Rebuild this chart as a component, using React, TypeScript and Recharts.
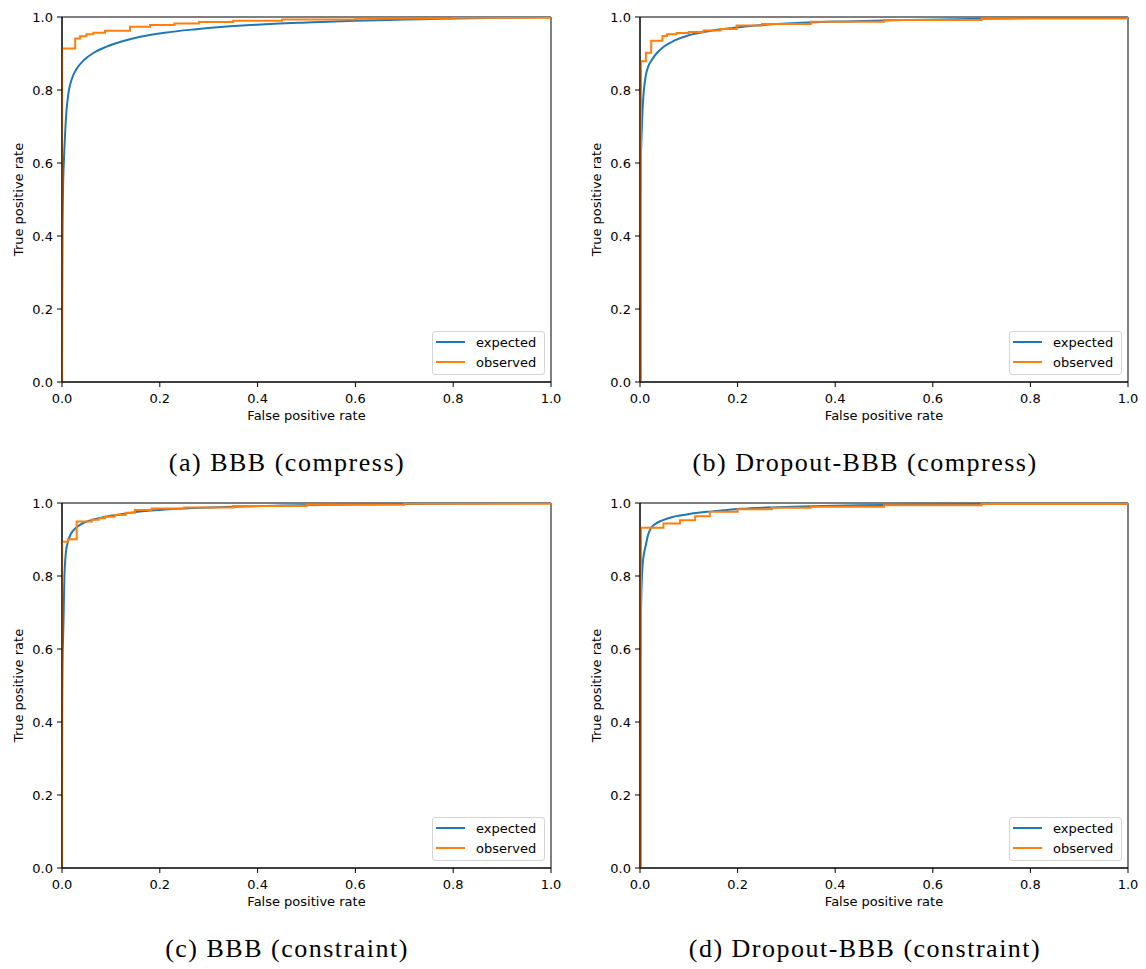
import { LineChart, Line, XAxis, YAxis, ReferenceArea, Legend } from 'recharts'

const TICKS = [0, 0.2, 0.4, 0.6, 0.8, 1.0]
const C_EXPECTED = '#1f77b4'
const C_OBSERVED = '#ff7f0e'
const FONT = 'DejaVu Sans, sans-serif'

// (a) BBB (compress)
const fprExpA = [0, 0.001, 0.002, 0.004, 0.006, 0.009, 0.013, 0.02, 0.03, 0.045, 0.065, 0.09, 0.12, 0.16, 0.21, 0.27, 0.33, 0.4, 0.5, 0.6, 0.7, 0.8, 0.9, 1.0]
const tprExpA = [0.07, 0.4, 0.52, 0.61, 0.67, 0.74, 0.79, 0.83, 0.858, 0.882, 0.902, 0.918, 0.932, 0.946, 0.957, 0.966, 0.973, 0.979, 0.985, 0.99, 0.993, 0.996, 0.998, 1.0]
const fprObsA = [0, 0, 0.027, 0.037, 0.05, 0.064, 0.088, 0.139, 0.18, 0.23, 0.28, 0.35, 0.45, 0.6, 0.8, 1.0]
const tprObsA = [0, 0.914, 0.941, 0.947, 0.953, 0.957, 0.962, 0.973, 0.978, 0.982, 0.986, 0.99, 0.993, 0.996, 0.998, 1.0]

// (b) Dropout-BBB (compress)
const fprExpB = [0, 0.0005, 0.001, 0.002, 0.003, 0.005, 0.008, 0.012, 0.017, 0.024, 0.035, 0.05, 0.07, 0.1, 0.14, 0.19, 0.25, 0.33, 0.42, 0.55, 0.7, 0.85, 1.0]
const tprExpB = [0.1, 0.42, 0.53, 0.62, 0.665, 0.74, 0.8, 0.84, 0.865, 0.882, 0.902, 0.92, 0.935, 0.95, 0.961, 0.97, 0.978, 0.984, 0.988, 0.992, 0.995, 0.998, 1.0]
const fprObsB = [0, 0.002, 0.012, 0.023, 0.046, 0.055, 0.075, 0.1, 0.13, 0.165, 0.198, 0.25, 0.35, 0.5, 0.7, 1.0]
const tprObsB = [0, 0.879, 0.902, 0.935, 0.948, 0.953, 0.956, 0.959, 0.963, 0.967, 0.977, 0.981, 0.987, 0.992, 0.996, 1.0]

// (c) BBB (constraint)
const fprExpC = [0, 0.0005, 0.001, 0.002, 0.003, 0.004, 0.005, 0.007, 0.009, 0.012, 0.018, 0.027, 0.04, 0.06, 0.085, 0.11, 0.15, 0.2, 0.27, 0.35, 0.45, 0.6, 0.75, 0.9, 1.0]
const tprExpC = [0.21, 0.45, 0.55, 0.62, 0.67, 0.74, 0.8, 0.85, 0.875, 0.894, 0.915, 0.93, 0.943, 0.953, 0.961, 0.967, 0.975, 0.981, 0.986, 0.99, 0.993, 0.996, 0.998, 0.999, 1.0]
const fprObsC = [0, 0, 0.012, 0.03, 0.061, 0.075, 0.088, 0.108, 0.13, 0.149, 0.183, 0.25, 0.35, 0.5, 0.7, 1.0]
const tprObsC = [0, 0.894, 0.901, 0.949, 0.954, 0.958, 0.962, 0.967, 0.973, 0.981, 0.985, 0.988, 0.992, 0.995, 0.998, 1.0]

// (d) Dropout-BBB (constraint)
const fprExpD = [0, 0.0005, 0.001, 0.002, 0.003, 0.004, 0.006, 0.008, 0.012, 0.016, 0.022, 0.032, 0.047, 0.065, 0.088, 0.11, 0.137, 0.17, 0.205, 0.27, 0.35, 0.45, 0.6, 0.75, 0.9, 1.0]
const tprExpD = [0.24, 0.5, 0.6, 0.7, 0.76, 0.8, 0.84, 0.86, 0.885, 0.91, 0.93, 0.943, 0.953, 0.961, 0.967, 0.972, 0.976, 0.98, 0.984, 0.988, 0.991, 0.994, 0.996, 0.998, 0.999, 1.0]
const fprObsD = [0, 0.002, 0.048, 0.082, 0.113, 0.143, 0.2, 0.27, 0.35, 0.5, 0.7, 1.0]
const tprObsD = [0, 0.932, 0.944, 0.953, 0.964, 0.976, 0.983, 0.987, 0.99, 0.994, 0.997, 1.0]

const zip = (xs: number[], ys: number[]) => xs.map((fpr, i) => ({ fpr, tpr: ys[i] }))

interface PanelProps {
  left: number
  top: number
  width: number
  plotWidth: number
  exp: { fpr: number; tpr: number }[]
  obs: { fpr: number; tpr: number }[]
}

const tickStyle = { fontSize: 13, fill: '#000', fontFamily: FONT }

const renderLegend = (props: any) => {
  const items = props.payload || []
  return (
    <div style={{ width: 111, height: 42, border: '1px solid #d4d4d4', borderRadius: 3, background: 'rgba(255,255,255,0.8)', position: 'relative', fontFamily: FONT, fontSize: 13, color: '#000' }}>
      {items.map((it: any, i: number) => (
        <div key={it.value} style={{ position: 'absolute', left: 3, top: 3 + i * 20, height: 14, display: 'flex', alignItems: 'center', whiteSpace: 'nowrap' }}>
          <span style={{ display: 'inline-block', width: 29, borderTop: `2px solid ${it.color}`, marginRight: 11 }} />
          <span>{it.value}</span>
        </div>
      ))}
    </div>
  )
}

function RocPanel({ left, top, width, plotWidth, exp, obs }: PanelProps) {
  const right = width - 62 - plotWidth
  return (
    <div style={{ position: 'absolute', left, top }}>
      <LineChart width={width} height={440} margin={{ top: 17, right, bottom: 0, left: 0 }}>
        <XAxis dataKey="fpr" type="number" domain={[0, 1]} ticks={TICKS} interval={0} allowDataOverflow
          tickFormatter={(v: number) => v.toFixed(1)} tick={tickStyle} tickSize={5} tickMargin={7}
          tickLine={{ stroke: '#000' }} axisLine={{ stroke: '#000' }} height={58}
          label={{ value: 'False positive rate', position: 'insideBottom', offset: 20, fontSize: 13, fill: '#000', fontFamily: FONT }} />
        <YAxis type="number" domain={[0, 1]} ticks={TICKS} interval={0} allowDataOverflow
          tickFormatter={(v: number) => v.toFixed(1)} tick={tickStyle} tickSize={5} tickMargin={4}
          tickLine={{ stroke: '#000' }} axisLine={{ stroke: '#000' }} width={62}
          label={{ value: 'True positive rate', angle: -90, position: 'insideLeft', offset: 18, fontSize: 13, fill: '#000', fontFamily: FONT, style: { textAnchor: 'middle' } }} />
        <Line data={exp} dataKey="tpr" name="expected" type="monotoneX" stroke={C_EXPECTED} strokeWidth={2} dot={false} activeDot={false} isAnimationActive={false} />
        <Line data={obs} dataKey="tpr" name="observed" type="stepAfter" stroke={C_OBSERVED} strokeWidth={2} dot={false} activeDot={false} isAnimationActive={false} />
        <ReferenceArea x1={0} x2={1} y1={0} y2={1} fill="none" fillOpacity={0} stroke="#000" strokeWidth={1} />
        <Legend content={renderLegend} layout="vertical" align="center" verticalAlign="middle"
          wrapperStyle={{ left: 62 + plotWidth - 119, top: 331, width: 113, height: 44 }} />
      </LineChart>
    </div>
  )
}

const captionStyle = {
  position: 'absolute' as const, textAlign: 'center' as const, fontFamily: '"Liberation Serif", "Times New Roman", serif',
  fontSize: 26, lineHeight: '26px', letterSpacing: 1.5, color: '#000', whiteSpace: 'nowrap' as const,
}

export default function App() {
  return (
    <div style={{ position: 'absolute', left: 0, top: 0, width: 1146, height: 969, background: '#fff', overflow: 'hidden' }}>
      <RocPanel left={0} top={0} width={572} plotWidth={489} exp={zip(fprExpA, tprExpA)} obs={zip(fprObsA, tprObsA)} />
      <RocPanel left={578} top={0} width={560} plotWidth={488} exp={zip(fprExpB, tprExpB)} obs={zip(fprObsB, tprObsB)} />
      <RocPanel left={0} top={486} width={572} plotWidth={489} exp={zip(fprExpC, tprExpC)} obs={zip(fprObsC, tprObsC)} />
      <RocPanel left={578} top={486} width={560} plotWidth={488} exp={zip(fprExpD, tprExpD)} obs={zip(fprObsD, tprObsD)} />
      <div style={{ ...captionStyle, left: 0, top: 450, width: 574 }}>(a) BBB (compress)</div>
      <div style={{ ...captionStyle, left: 584, top: 450, width: 562 }}>(b) Dropout-BBB (compress)</div>
      <div style={{ ...captionStyle, left: 0, top: 936, width: 574 }}>(c) BBB (constraint)</div>
      <div style={{ ...captionStyle, left: 584, top: 936, width: 562 }}>(d) Dropout-BBB (constraint)</div>
    </div>
  )
}
